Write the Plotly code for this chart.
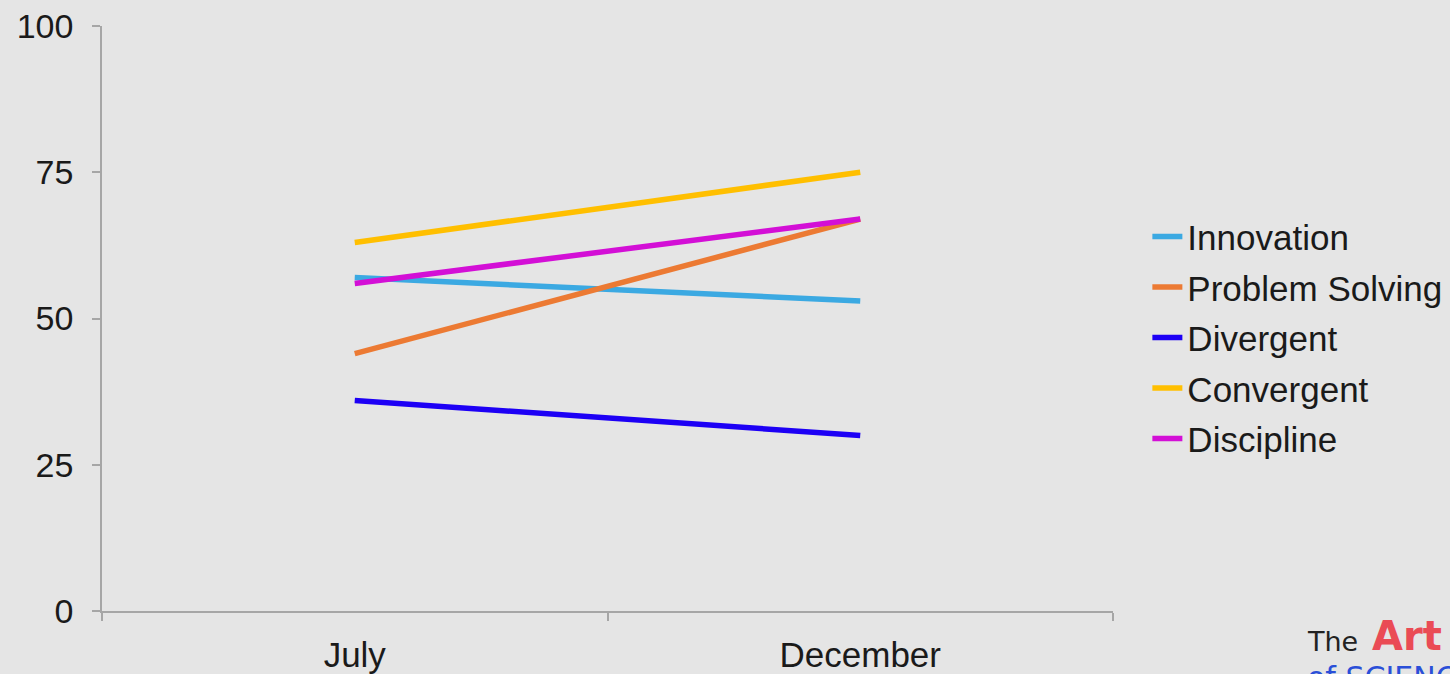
import plotly.graph_objects as go

# Survey periods and scores per trait
periods = ["July", "December"]
innovation = [57, 53]
problem_solving = [44, 67]
divergent = [36, 30]
convergent = [63, 75]
discipline = [56, 67]

series = [
    ("Innovation", innovation, "#3ba9e2"),
    ("Problem Solving", problem_solving, "#ec7a33"),
    ("Divergent", divergent, "#1d00f5"),
    ("Convergent", convergent, "#ffbf00"),
    ("Discipline", discipline, "#d30fd6"),
]
y_ticks = [0, 25, 50, 75, 100]

fig = go.Figure()
for i, (name, values, color) in enumerate(series):
    fig.add_trace(go.Scatter(
        x=periods, y=values, name=name, mode="lines",
        line=dict(color=color, width=5.5),
        legendgroup=f"g{i}",
    ))

bg = "#e5e5e5"
axis_col = "#a6a6a6"
font_main = "Liberation Sans, Arial, sans-serif"

fig.update_layout(
    width=1450, height=674,
    paper_bgcolor=bg, plot_bgcolor=bg,
    margin=dict(l=102, r=337, t=26, b=63, autoexpand=False),
    font=dict(family=font_main, size=34, color="#1a1a1a"),
    showlegend=True,
    legend=dict(
        x=1.034, xanchor="left", y=0.467, yanchor="middle",
        bgcolor="rgba(0,0,0,0)", font=dict(size=35, color="#1a1a1a"),
        tracegroupgap=2, itemwidth=30,
    ),
    xaxis=dict(
        type="category", range=[-0.5, 1.5], tickson="boundaries",
        showline=True, linecolor=axis_col, linewidth=1.5,
        ticks="outside", ticklen=8, tickcolor=axis_col, tickwidth=1.5,
        showgrid=False, zeroline=False, automargin=False,
        tickfont=dict(size=35), ticklabelstandoff=12,
    ),
    yaxis=dict(
        range=[0, 100], tickvals=y_ticks,
        showline=True, linecolor=axis_col, linewidth=1.5,
        ticks="outside", ticklen=8, tickcolor=axis_col, tickwidth=1.5,
        showgrid=False, zeroline=False, automargin=False,
        tickfont=dict(size=34), ticklabelstandoff=12,
    ),
)

# Logo in the bottom-right corner
fig.add_annotation(
    xref="paper", yref="paper", x=1.19, y=-0.052, xanchor="left", yanchor="middle",
    text="The", showarrow=False,
    font=dict(family="DejaVu Sans, sans-serif", size=27, color="#222222"),
)
fig.add_annotation(
    xref="paper", yref="paper", x=1.254, y=-0.043, xanchor="left", yanchor="middle",
    text="<b>Art</b>", showarrow=False,
    font=dict(family="DejaVu Sans, sans-serif", size=40, color="#ea4b55"),
)
fig.add_annotation(
    xref="paper", yref="paper", x=1.19, y=-0.113, xanchor="left", yanchor="middle",
    text="of SCIENCE", showarrow=False,
    font=dict(family="DejaVu Sans, sans-serif", size=30, color="#2a4fd8"),
)

fig.write_html("out.html")
